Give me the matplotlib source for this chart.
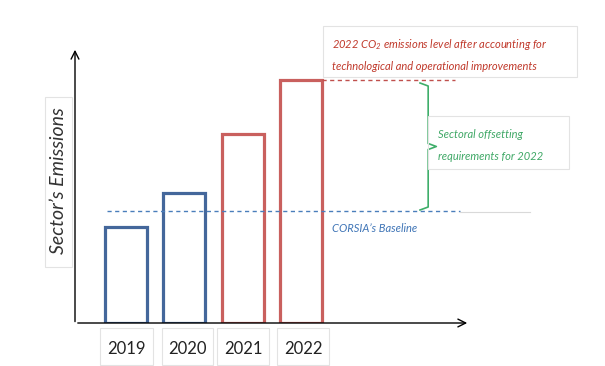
import matplotlib
matplotlib.use('Agg')
import matplotlib.pyplot as plt
from matplotlib.patches import Rectangle

# 데이터 (임의 단위)
years = ['2019', '2020', '2021', '2022']
emissions = [96, 130, 189, 243]
bar_colors = ['#44679b', '#44679b', '#c9605e', '#c9605e']
baseline = 112

plt.rcParams['font.family'] = ['Lato', 'DejaVu Sans']
plt.rcParams['mathtext.fontset'] = 'custom'
plt.rcParams['mathtext.rm'] = 'Lato:italic'
plt.rcParams['mathtext.it'] = 'Lato:italic'
note_font = dict(family=['Lato', 'DejaVu Sans'], fontsize=8)

W, H = 605, 366
fig = plt.figure(figsize=(W / 100, H / 100), dpi=100)


def px(x, y):
    # 픽셀 위치 -> figure 비율
    return x / W, 1 - y / H


# 플롯 영역: y축 x=75, x축 y=323, 위쪽 화살표 y=47, 오른쪽 화살표 x=470
ax = fig.add_axes([75 / W, (H - 323) / H, (470 - 75) / W, (323 - 47) / H])
ax.set_xlim(-0.874, 5.897)
ax.set_ylim(0, 276)
ax.axis('off')

x = range(len(years))
ax.bar(x, emissions, width=0.72, fill=False, edgecolor=bar_colors, linewidth=2.3)

# 축 화살표
ax.annotate('', xy=(0, 1), xytext=(0, -0.005), xycoords='axes fraction',
            arrowprops=dict(arrowstyle='->', color='black', lw=1.0,
                            mutation_scale=14))
ax.annotate('', xy=(1, 0), xytext=(0, 0), xycoords='axes fraction',
            arrowprops=dict(arrowstyle='->', color='black', lw=1.0,
                            mutation_scale=14))

# 기준선 (CORSIA baseline)
ax.plot([-0.33, 5.72], [baseline, baseline], color='#4a7ebb', lw=1.0,
        linestyle=(0, (3, 2.5)))
ax.plot([5.72, 6.93], [baseline - 1, baseline - 1], color='#d9d9d9', lw=0.8,
        clip_on=False)

# 2022 수준 점선
ax.plot([3.36, 5.64], [emissions[3], emissions[3]], color='#c0504d', lw=1.0,
        linestyle=(0, (3, 2.5)), zorder=5)

# 중괄호
bx = 5.18
dx = 0.14
top = emissions[3] - 3
bot = baseline + 1
mid = (top + bot) / 2
ax.plot([bx - dx, bx, bx, bx + dx, bx, bx, bx - dx],
        [top, top - 3, mid + 3, mid, mid - 3, bot + 3, bot],
        color='#3fae6a', lw=1.2, solid_joinstyle='round')

# 텍스트 상자
def box(x0, y0, x1, y1):
    fx0, fy1 = px(x0, y1)
    fx1, fy0 = px(x1, y0)
    fig.patches.append(Rectangle((fx0, fy1), fx1 - fx0, fy0 - fy1,
                                 transform=fig.transFigure, fill=False,
                                 edgecolor='#e3e3e3', lw=0.8))


box(323, 26, 577, 77)
fig.text(*px(332, 44), '2022 CO$_2$ emissions level after accounting for',
         color='#c0392b', style='italic', va='center', **note_font)
fig.text(*px(332, 66), 'technological and operational improvements',
         color='#c0392b', style='italic', va='center', **note_font)

box(428, 116, 569, 169)
fig.text(*px(438, 134), 'Sectoral offsetting', color='#3fa866',
         style='italic', va='center', **note_font)
fig.text(*px(438, 156), 'requirements for 2022', color='#3fa866',
         style='italic', va='center', **note_font)

fig.text(*px(332, 228), 'CORSIA\u2019s Baseline', color='#3e74b6',
         style='italic', va='center', **note_font)

box(45, 97, 72, 267)
fig.text(*px(59, 181), 'Sector\u2019s Emissions', color='#333333', fontsize=14,
         style='italic', rotation=90, ha='center', va='center')

# 연도 라벨
year_boxes = [(100, 153), (162, 213), (217, 269), (277, 329)]
for (x0, x1), yr in zip(year_boxes, years):
    box(x0, 328, x1, 365)
    fig.text(*px((x0 + x1) / 2, 349), yr, color='#222222', fontsize=12,
             ha='center', va='center')

fig.savefig('out.png', dpi=100)
